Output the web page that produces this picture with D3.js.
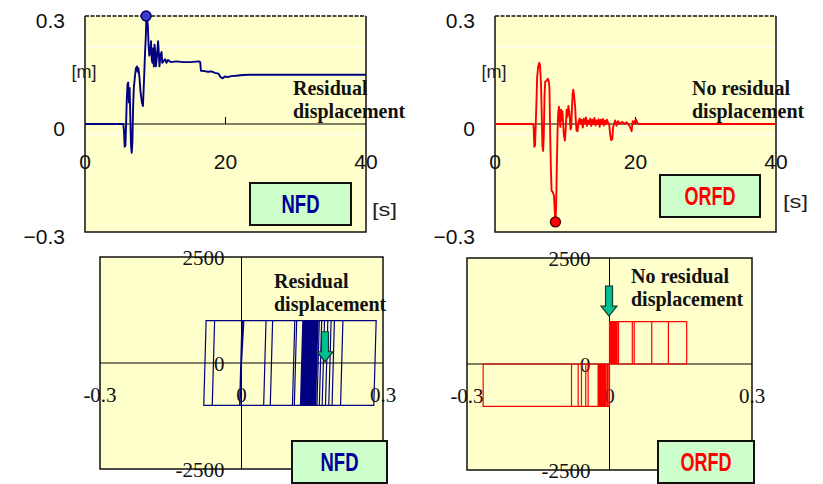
<!DOCTYPE html>
<html>
<head>
<meta charset="utf-8">
<script src="https://cdn.jsdelivr.net/npm/d3@7/dist/d3.min.js"></script>
<style>
  body { margin: 0; background: #fff; }
  svg { display: block; }
</style>
</head>
<body>
<div id="vis"></div>
<script>

// time histories: [time s, displacement m]
var nfdHistory = [
  [0,0],[5.45,0],[5.55,-0.02],[5.65,-0.063],[5.75,-0.06],[5.85,0.0],[5.95,0.07],[6.05,0.11],[6.15,0.115],
  [6.25,0.06],[6.35,0.1],[6.45,0.02],[6.55,-0.06],[6.65,-0.08],[6.75,-0.05],[6.85,0.05],[6.95,0.1],
  [7.1,0.13],[7.25,0.155],[7.4,0.16],[7.5,0.145],[7.6,0.155],[7.75,0.13],[7.9,0.09],[8.1,0.06],[8.25,0.05],
  [8.4,0.12],[8.55,0.2],[8.65,0.24],[8.75,0.3],[8.85,0.295],[8.95,0.27],[9.05,0.22],[9.15,0.19],[9.3,0.2],
  [9.4,0.23],[9.5,0.18],[9.6,0.17],[9.7,0.21],[9.8,0.16],[9.9,0.22],[10.0,0.2],[10.1,0.16],[10.25,0.19],
  [10.4,0.23],[10.5,0.2],[10.6,0.16],[10.75,0.19],[10.9,0.2],[11.0,0.17],[11.2,0.175],[11.4,0.18],
  [11.6,0.17],[11.8,0.178],[12.2,0.172],[13,0.174],[14,0.172],[15,0.172],[16.2,0.174],[16.4,0.172],
  [16.5,0.148],[17,0.147],[17.5,0.145],[18,0.146],[18.5,0.142],[19,0.14],[19.3,0.13],[19.6,0.127],
  [19.9,0.132],[20.3,0.13],[20.8,0.133],[21.5,0.134],[22.5,0.136],[23.5,0.137],[40,0.137]
];

var orfdHistory = [
  [0,0],[5.45,0],[5.5,-0.01],[5.6,-0.063],[5.7,-0.06],[5.8,0.0],[5.9,0.06],[6.0,0.13],[6.15,0.16],
  [6.3,0.17],[6.4,0.165],[6.55,0.11],[6.65,0.03],[6.75,-0.06],[6.85,-0.075],[6.95,-0.03],[7.05,0.08],
  [7.15,0.118],[7.35,0.12],[7.5,0.126],[7.65,0.12],[7.75,0.1],[7.85,-0.02],[7.95,-0.12],[8.05,-0.185],
  [8.25,-0.19],[8.4,-0.2],[8.5,-0.24],[8.6,-0.272],[8.7,-0.23],[8.8,-0.12],[8.9,-0.02],[9.0,0.03],
  [9.1,0.048],[9.2,0.02],[9.3,-0.008],[9.4,0.04],[9.5,0.01],[9.6,0.035],[9.7,0.0],[9.8,-0.03],
  [9.95,-0.046],[10.05,-0.02],[10.2,0.04],[10.3,0.02],[10.45,0.05],[10.6,0.03],[10.75,-0.015],
  [10.85,-0.01],[10.95,0.04],[11.05,0.085],[11.15,0.095],[11.25,0.08],[11.4,0.05],[11.5,0.01],
  [11.6,-0.018],[11.75,-0.02],[11.9,0.008],[12.05,0.015],[12.2,0.0],[12.35,0.012],[12.5,-0.01],
  [12.65,0.015],[12.8,0.002],[12.95,0.018],[13.1,-0.005],[13.25,0.01],[13.4,0.0],[13.55,0.015],
  [13.7,-0.006],[13.85,0.012],[14.0,0.0],[14.15,0.017],[14.3,-0.004],[14.45,0.01],[14.6,0.0],
  [14.75,0.013],[14.9,-0.008],[15.05,0.012],[15.2,0.0],[15.35,0.014],[15.5,-0.004],[15.65,0.01],
  [15.8,0.0],[15.95,0.012],[16.1,0.003],[16.25,0.0],[16.4,-0.03],[16.55,-0.045],[16.7,-0.042],
  [16.8,-0.01],[16.95,0.0],[17.1,0.01],[17.3,-0.005],[17.5,0.008],[17.8,0.0],[18.1,0.006],[18.4,0.0],
  [18.7,0.005],[19.0,0.0],[19.3,-0.012],[19.45,-0.02],[19.6,0.008],[19.75,0.0],[19.95,0.01],
  [20.1,0.012],[20.25,0.004],[20.4,0.0],[40,0]
];

// peak markers [time, displacement]
var nfdPeak = [8.7, 0.3];
var orfdPeak = [8.6, -0.272];

// displacement reversal points of the hysteresis loops [m]
var nfdReversals = [0, 0.002, -0.003, 0.001, -0.062, 0.066, -0.003, 0.113, -0.08, 0.155, 0.047, 0.2855,
  0.112, 0.215, 0.125, 0.197, 0.128, 0.19, 0.13, 0.183, 0.132, 0.176, 0.134, 0.17, 0.136, 0.165, 0.138,
  0.162, 0.14, 0.16, 0.141, 0.158, 0.143, 0.156, 0.144, 0.154, 0.146, 0.152, 0.127, 0.15, 0.129,
  0.148, 0.131, 0.147, 0.133, 0.145, 0.135, 0.144, 0.137, 0.142, 0.139, 0.14, 0.136];
var orfdReversals = [0, -0.059, 0.1625, -0.08, 0.124, -0.266, 0.048, -0.05, 0.052, -0.066, 0.089,
  -0.016, 0.019, -0.024, 0.016, -0.02, 0.012, -0.018, 0.014, -0.01, 0.008, -0.045, 0.005, -0.012,
  0.01, -0.022, 0.006, -0.008, 0.003, -0.014, 0.007, -0.005, 0.002, -0.019, 0.004, -0.003, 0.004, 0];
var frictionForce = 1000;

// residual displacement arrows [displacement, force at tip]
var nfdArrow = [0.177, 30];
var orfdArrow = [-0.001, 1130];

var timeTicks = [0, 20, 40];
var dispTicks = [-0.3, 0, 0.3];
var forceTicks = [-2500, 0, 2500];
var paleRules = [0.214, -0.028];

var svg = d3.select('#vis').append('svg')
  .attr('width', 823)
  .attr('height', 484);

svg.append('rect').attr('width', 823).attr('height', 484).attr('fill', '#fff');

var sans = '"Liberation Sans", Arial, sans-serif';
var serif = '"Liberation Serif", "Times New Roman", serif';

function topDisp(v) {
  if (v === 0) return '0';
  return (v < 0 ? '\u2212' : '') + Math.abs(v);
}

function historyChart(opt) {
  var g = svg.append('g');
  var x = d3.scaleLinear().domain([0, 40]).range([opt.left, opt.left + 281]);
  var y = d3.scaleLinear().domain([-0.3, 0.3]).range([opt.top + 216, opt.top]);

  g.append('rect')
    .attr('x', x(0)).attr('y', y(0.3))
    .attr('width', x(40) - x(0)).attr('height', y(-0.3) - y(0.3))
    .attr('fill', '#ffffcc');

  g.selectAll('.pale').data(paleRules).enter().append('line')
    .attr('x1', x(0)).attr('x2', x(40))
    .attr('y1', function(d) { return y(d); }).attr('y2', function(d) { return y(d); })
    .attr('stroke', '#fff').attr('stroke-width', 1.2);

  // frame
  g.append('path')
    .attr('d', 'M' + x(0) + ',' + y(0.3) + 'V' + y(-0.3) + 'H' + x(40) + 'V' + y(0.3))
    .attr('fill', 'none').attr('stroke', '#111').attr('stroke-width', 1.5);
  g.append('line')
    .attr('x1', x(0)).attr('x2', x(40)).attr('y1', y(0.3)).attr('y2', y(0.3))
    .attr('stroke', '#111').attr('stroke-width', 1.5).attr('stroke-dasharray', '4,1.5');

  // zero axis and tick
  g.append('line')
    .attr('x1', x(0)).attr('x2', x(40)).attr('y1', y(0)).attr('y2', y(0))
    .attr('stroke', '#000').attr('stroke-width', 1);
  g.append('line')
    .attr('x1', x(20)).attr('x2', x(20)).attr('y1', y(0)).attr('y2', y(0) - 7)
    .attr('stroke', '#000').attr('stroke-width', 1);

  g.append('path')
    .datum(opt.data)
    .attr('d', d3.line().x(function(d) { return x(d[0]); }).y(function(d) { return y(d[1]); }))
    .attr('fill', 'none')
    .attr('stroke', opt.color)
    .attr('stroke-width', 1.9)
    .attr('stroke-linejoin', 'round');

  g.append('circle')
    .attr('cx', x(opt.peak[0])).attr('cy', y(opt.peak[1])).attr('r', 5)
    .attr('fill', opt.dotFill).attr('stroke', opt.dotStroke).attr('stroke-width', 1.3);

  g.selectAll('.ylab').data(dispTicks).enter().append('text')
    .attr('x', x(0) - 20).attr('y', function(d) { return y(d) + 12; })
    .attr('text-anchor', 'end')
    .style('font-family', sans).style('font-size', '21px').attr('fill', '#111')
    .text(topDisp);

  g.selectAll('.xlab').data(timeTicks).enter().append('text')
    .attr('x', function(d) { return x(d); }).attr('y', y(0) + 45)
    .attr('text-anchor', 'middle')
    .style('font-family', sans).style('font-size', '21px').attr('fill', '#111')
    .text(function(d) { return d; });

  g.append('text')
    .attr('x', x(0) - 1).attr('y', opt.top + 62)
    .attr('text-anchor', 'middle')
    .attr('textLength', 25).attr('lengthAdjust', 'spacingAndGlyphs')
    .style('font-family', sans).style('font-size', '19px').attr('fill', '#222')
    .text('[m]');
  g.append('text')
    .attr('x', opt.sx).attr('y', opt.sy)
    .attr('textLength', 25).attr('lengthAdjust', 'spacingAndGlyphs')
    .style('font-family', sans).style('font-size', '19px').attr('fill', '#222')
    .text('[s]');

  note(g, opt.note, opt.nx, opt.ny);
  labelBox(g, opt.box, opt.name, opt.nameColor, opt.nameWidth);
}

function note(g, lines, nx, ny) {
  var t = g.append('text')
    .attr('x', nx).attr('y', ny)
    .style('font-family', serif).style('font-size', '20px').style('font-weight', 'bold')
    .attr('fill', '#111');
  lines.forEach(function(s, i) {
    t.append('tspan').attr('x', nx).attr('dy', i === 0 ? 0 : 23).text(s);
  });
}

function labelBox(g, b, name, color, w) {
  g.append('rect')
    .attr('x', b[0]).attr('y', b[1]).attr('width', b[2]).attr('height', b[3])
    .attr('fill', '#ccffcc').attr('stroke', '#111').attr('stroke-width', 2);
  g.append('text')
    .attr('x', b[0] + b[2] / 2).attr('y', b[1] + b[3] / 2 + 9)
    .attr('text-anchor', 'middle')
    .attr('textLength', w).attr('lengthAdjust', 'spacingAndGlyphs')
    .style('font-family', sans).style('font-size', '25px').style('font-weight', 'bold')
    .attr('fill', color)
    .text(name);
}

// friction damper: force flips sign at every reversal
function frictionLoop(revs, F, delta) {
  var pts = [[revs[0], 0]];
  for (var i = 1; i < revs.length; i++) {
    var a = revs[i - 1], b = revs[i], s = Math.sign(b - a);
    pts.push([a + s * delta, s * F], [b, s * F]);
  }
  return pts;
}

// origin returning damper: force only while moving away from zero
function originLoop(revs, F) {
  var pts = [[revs[0], 0]];
  for (var i = 1; i < revs.length; i++) {
    var a = revs[i - 1], b = revs[i], s = Math.sign(b - a);
    if (a === 0 || Math.sign(a) === s) {
      pts.push([a, s * F], [b, s * F], [b, 0]);
    } else if (Math.sign(b) === s) {
      pts.push([0, 0], [0, s * F], [b, s * F], [b, 0]);
    } else {
      pts.push([b, 0]);
    }
  }
  return pts;
}

function loopChart(opt) {
  var g = svg.append('g');
  var x = d3.scaleLinear().domain([-0.3, 0.3]).range([opt.left, opt.left + opt.w]);
  var y = d3.scaleLinear().domain([-2500, 2500]).range([opt.top + 212, opt.top]);

  g.append('rect')
    .attr('x', x(-0.3)).attr('y', y(2500))
    .attr('width', x(0.3) - x(-0.3)).attr('height', y(-2500) - y(2500))
    .attr('fill', '#ffffcc').attr('stroke', '#111').attr('stroke-width', 1.5);

  g.append('line')
    .attr('x1', x(-0.3)).attr('x2', x(0.3)).attr('y1', y(0)).attr('y2', y(0))
    .attr('stroke', '#000').attr('stroke-width', 1);
  g.append('line')
    .attr('x1', x(0)).attr('x2', x(0)).attr('y1', y(2500)).attr('y2', y(-2500))
    .attr('stroke', '#000').attr('stroke-width', 1);

  g.selectAll('.ylab').data(forceTicks).enter().append('text')
    .attr('x', x(0) - opt.gap).attr('y', function(d) { return y(d) + 8; })
    .attr('text-anchor', 'end')
    .style('font-family', serif).style('font-size', '21px').attr('fill', '#111')
    .text(function(d) { return d; });

  g.selectAll('.xlab').data(dispTicks).enter().append('text')
    .attr('x', function(d) { return x(d); }).attr('y', y(0) + 39)
    .attr('text-anchor', 'middle')
    .style('font-family', serif).style('font-size', '21px').attr('fill', '#111')
    .text(function(d) { return d; });

  g.append('path')
    .datum(opt.points)
    .attr('d', d3.line().x(function(d) { return x(d[0]); }).y(function(d) { return y(d[1]); }))
    .attr('fill', 'none')
    .attr('stroke', opt.color)
    .attr('stroke-width', 1.2);

  // green arrow pointing at the residual displacement
  var ax = x(opt.arrow[0]), ay = y(opt.arrow[1]);
  var arrow = [[ax, ay], [ax - 8, ay - 10], [ax - 3.5, ay - 10], [ax - 3.5, ay - 30],
               [ax + 3.5, ay - 30], [ax + 3.5, ay - 10], [ax + 8, ay - 10]];
  g.append('path')
    .attr('d', d3.line()(arrow) + 'Z')
    .attr('fill', '#00c090').attr('stroke', '#143c2c').attr('stroke-width', 1.2);

  note(g, opt.note, opt.nx, opt.ny);
  labelBox(g, opt.box, opt.name, opt.nameColor, opt.nameWidth);
}

historyChart({
  left: 85, top: 16, data: nfdHistory, peak: nfdPeak,
  color: '#000080', dotFill: '#3b3bd0', dotStroke: '#000060',
  sx: 372, sy: 216,
  note: ['Residual', 'displacement'], nx: 293, ny: 95,
  box: [250, 183, 101, 42], name: 'NFD', nameColor: '#000099', nameWidth: 38
});

historyChart({
  left: 495, top: 16, data: orfdHistory, peak: orfdPeak,
  color: '#ff0000', dotFill: '#ff0000', dotStroke: '#400000',
  sx: 783, sy: 208,
  note: ['No residual', 'displacement'], nx: 692, ny: 95,
  box: [660, 175, 100, 42], name: 'ORFD', nameColor: '#ff0000', nameWidth: 51
});

loopChart({
  left: 100, top: 257, w: 283, gap: 17,
  points: frictionLoop(nfdReversals, frictionForce, 0.005),
  color: '#000080', arrow: nfdArrow,
  note: ['Residual', 'displacement'], nx: 274, ny: 288,
  box: [292, 441, 95, 42], name: 'NFD', nameColor: '#000099', nameWidth: 38
});

loopChart({
  left: 467, top: 258, w: 285, gap: 19,
  points: originLoop(orfdReversals, frictionForce),
  color: '#ff0000', arrow: orfdArrow,
  note: ['No residual', 'displacement'], nx: 631, ny: 283,
  box: [658, 441, 96, 42], name: 'ORFD', nameColor: '#ff0000', nameWidth: 51
});

</script>
</body>
</html>
